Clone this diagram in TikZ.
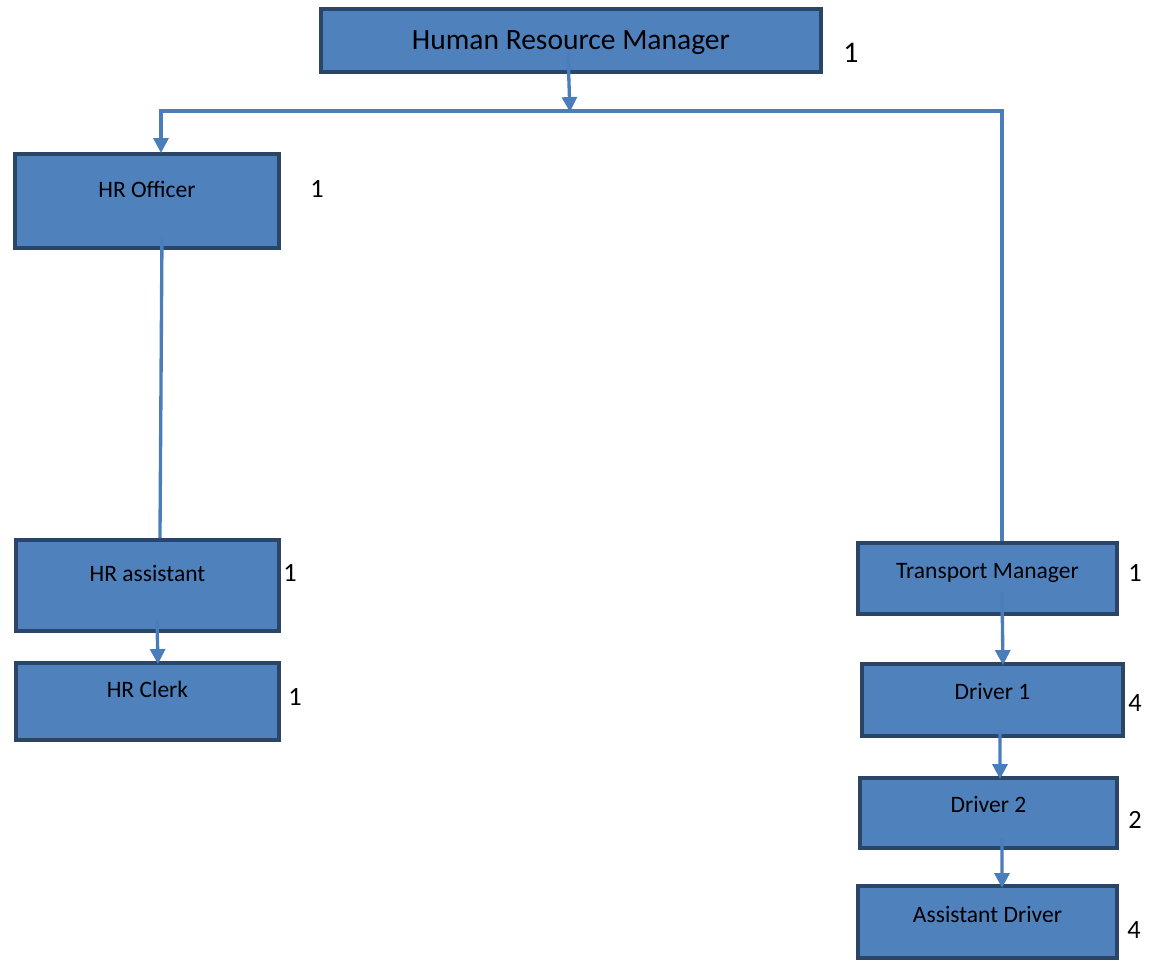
\documentclass[tikz,border=0pt]{standalone}
\usepackage{fontspec}
\setmainfont{Carlito}
\usetikzlibrary{calc,arrows.meta}
\definecolor{boxfill}{HTML}{4F81BD}
\definecolor{boxdraw}{HTML}{2A4566}
\definecolor{conncol}{HTML}{4A7EBB}
\begin{document}
\begin{tikzpicture}[x=0.02cm,y=-0.02cm,
  box/.style={draw=boxdraw,fill=boxfill,line width=2.2pt,inner sep=0pt,outer sep=0pt,
    anchor=north west,font=\fontsize{13.4}{15}\selectfont},
  num/.style={inner sep=0pt,font=\fontsize{15}{17}\selectfont},
  conn/.style={draw=conncol,line width=1.9pt},
  arr/.style={-{Triangle[length=8.5pt,width=8.5pt]}}]
\useasboundingbox (0,0) rectangle (1151,961);
% boxes (border centre line, px)
\node[box,font=\fontsize{16.8}{19}\selectfont,minimum width=10cm,text height=0.82cm,text depth=0.44cm] (hrm) at (321,9) {Human Resource Manager};
\node[box,minimum width=5.28cm,text height=0.86cm,text depth=1.02cm] (hro) at (15,154) {HR Officer};
\node[box,minimum width=5.26cm,text height=0.82cm,text depth=1.00cm] (hra) at (16,540) {HR assistant};
\node[box,minimum width=5.26cm,text height=0.68cm,text depth=0.86cm] (hrc) at (16,663) {HR Clerk};
\node[box,minimum width=5.18cm,text height=0.70cm,text depth=0.72cm] (tm) at (858,543) {Transport Manager};
\node[box,minimum width=5.22cm,text height=0.70cm,text depth=0.74cm] (d1) at (862,664) {Driver 1};
\node[box,minimum width=5.14cm,text height=0.68cm,text depth=0.72cm] (d2) at (860,778) {Driver 2};
\node[box,minimum width=5.18cm,text height=0.72cm,text depth=0.72cm] (ad) at (858,886) {Assistant Driver};
% counts
\node[num,font=\fontsize{17}{19}\selectfont] (n1) at (851,52.5) {1};
\node[num] (n2) at (317,189) {1};
\node[num] (n3) at (290,573) {1};
\node[num] (n4) at (295,697) {1};
\node[num] (n5) at (1135,573) {1};
\node[num] (n6) at (1135,703.5) {4};
\node[num] (n7) at (1135,820) {2};
\node[num] (n8) at (1134,930) {4};
% connectors
\coordinate (bus) at ($(hrm.south)+(-1,40)$);
\coordinate (busL) at ($(hro.north)+(14,-43)$);
\draw[conn,arr] ($(hrm.south)+(-3,-20)$) -- (bus);
\draw[conn,arr] ($(tm.north)+(14.5,-2)$) |- (busL) -- ($(hro.north)+(14,-1)$);
\draw[conn] ($(hro.south)+(15,-11)$) -- ($(hra.north)+(12.5,-2)$);
\draw[conn,arr] ($(hra.south)+(9.5,-11)$) -- ($(hrc.north)+(10.5,1)$);
\draw[conn,arr] ($(tm.south)+(14.5,-22)$) -- ($(d1.north)+(10.5,1)$);
\draw[conn,arr] ($(d1.south)+(7.5,-7)$) -- ($(d2.north)+(11.5,1)$);
\draw[conn,arr] ($(d2.south)+(13.5,-10)$) -- ($(ad.north)+(14.5,2)$);
\end{tikzpicture}
\end{document}
